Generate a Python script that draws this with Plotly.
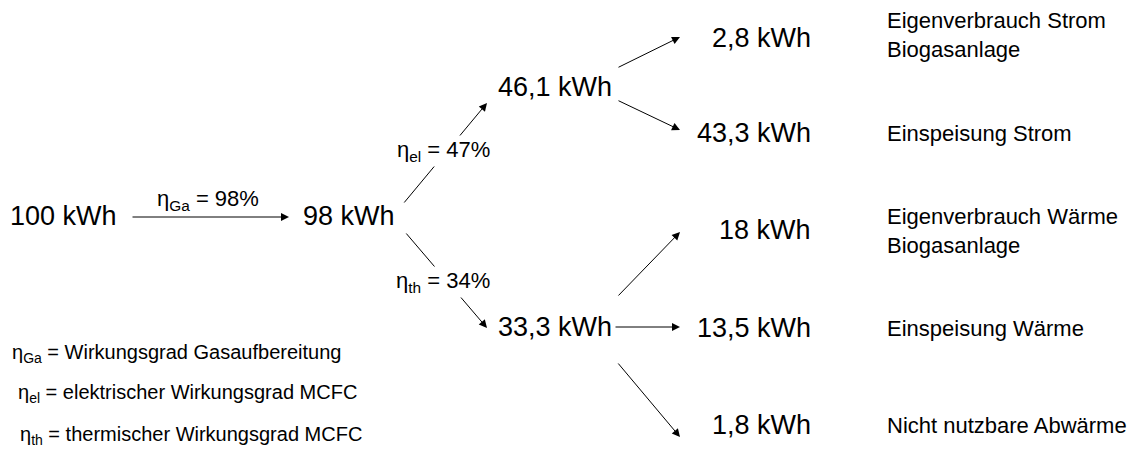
import plotly.graph_objects as go

# ---- data ----
input_kwh = 100
eta_ga = 98          # %
eta_el = 47          # %
eta_th = 34          # %
gas_kwh = 98
el_kwh = 46.1
th_kwh = 33.3
el_out_values = [2.8, 43.3]
el_out_labels = ["Eigenverbrauch Strom<br>Biogasanlage", "Einspeisung Strom"]
th_out_values = [18, 13.5, 1.8]
th_out_labels = ["Eigenverbrauch Wärme<br>Biogasanlage", "Einspeisung Wärme", "Nicht nutzbare Abwärme"]
legend_lines = [
    ("Ga", "Wirkungsgrad Gasaufbereitung"),
    ("el", "elektrischer Wirkungsgrad MCFC"),
    ("th", "thermischer Wirkungsgrad MCFC"),
]

def fmt(v):
    s = ("%g" % v).replace(".", ",")
    return s + " kWh"

# ---- layout positions (pixel space) ----
W, H = 1139, 450
FONT = "Liberation Sans, Arial, sans-serif"
BIG = 27
MID = 22
EFF = 22
SMALL = 20

ann = []

def arrow(x0, y0, x1, y1):
    ann.append(dict(x=x1, y=y1, ax=x0, ay=y0, xref="x", yref="y", axref="x", ayref="y",
                    text="", showarrow=True, arrowhead=2, arrowsize=1.6, arrowwidth=1,
                    arrowcolor="black", standoff=0, startstandoff=0))

def text(x, y, t, size, xanchor="center", bg=None):
    d = dict(x=x, y=y, xref="x", yref="y", text=t, showarrow=False, xanchor=xanchor,
             yanchor="middle", align=xanchor if xanchor != "center" else "center",
             font=dict(family=FONT, size=size, color="black"))
    if bg:
        d["bgcolor"] = bg
        d["borderpad"] = 1
    ann.append(d)

# arrows
arrow(131, 217, 289, 217)
arrow(403, 204, 487, 103)
arrow(405, 232, 487, 328)
arrow(617, 68, 680, 37)
arrow(617, 100, 680, 130)
arrow(617, 297, 680, 232)
arrow(614, 327, 680, 327)
arrow(617, 362, 680, 437)

# nodes
text(63, 216, fmt(input_kwh), BIG)
text(349, 216, fmt(gas_kwh), BIG)
text(555, 87, fmt(el_kwh), BIG)
text(555, 327, fmt(th_kwh), BIG, bg="white")

# efficiency labels
text(208, 200, "η<sub>Ga</sub> = %d%%" % eta_ga, EFF)
text(443, 151, "η<sub>el</sub> = %d%%" % eta_el, EFF, bg="white")
text(443, 282, "η<sub>th</sub> = %d%%" % eta_th, EFF, bg="white")

# outputs
el_y = [38, 133]
lab_el_y = [35, 133]
for v, lab, y, ly in zip(el_out_values, el_out_labels, el_y, lab_el_y):
    text(813, y, fmt(v), BIG, xanchor="right")
    text(885, ly, lab, MID, xanchor="left")
th_y = [230, 328, 425]
lab_th_y = [231, 328, 425]
for v, lab, y, ly in zip(th_out_values, th_out_labels, th_y, lab_th_y):
    text(813, y, fmt(v), BIG, xanchor="right")
    text(885, ly, lab, MID, xanchor="left")

# legend
leg_x = [10, 16, 18]
leg_y = [353, 393, 435]
for (sub, desc), x, y in zip(legend_lines, leg_x, leg_y):
    text(x, y, "η<sub>%s</sub> = %s" % (sub, desc), SMALL, xanchor="left")

fig = go.Figure()
fig.update_layout(
    width=W, height=H, margin=dict(l=0, r=0, t=0, b=0),
    paper_bgcolor="white", plot_bgcolor="white",
    xaxis=dict(range=[0, W], visible=False, fixedrange=True),
    yaxis=dict(range=[H, 0], visible=False, fixedrange=True),
    annotations=ann, showlegend=False,
)
fig.write_html("out.html", config={"displayModeBar": False},
               post_script="document.body.style.margin='0px';document.body.style.overflow='hidden';")
